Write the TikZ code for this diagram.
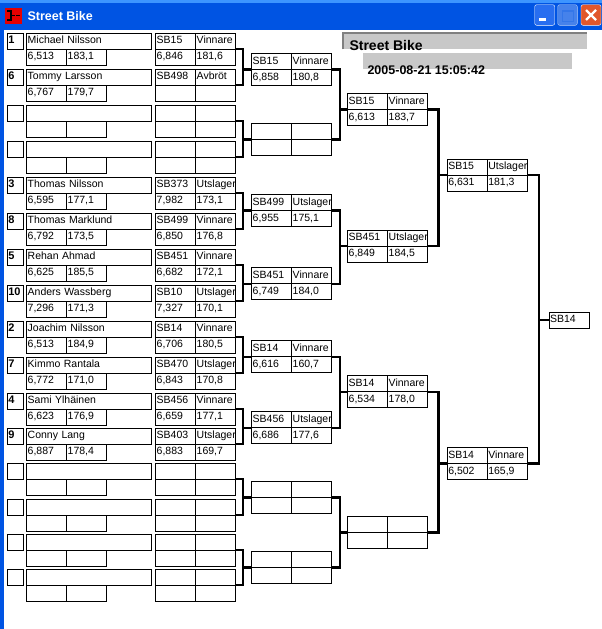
\documentclass[tikz,border=0pt]{standalone}
\usepackage{fontspec}
\setmainfont{Liberation Sans}
\usepackage{tikz}
\usetikzlibrary{positioning}
\usetikzlibrary{calc}

\definecolor{xpblue}{RGB}{0,84,227}
\definecolor{xplight}{RGB}{61,149,255}
\definecolor{xpbutton}{RGB}{40,110,240}
\definecolor{xpfaded}{RGB}{70,130,235}
\definecolor{closered}{RGB}{225,87,44}
\definecolor{panel}{RGB}{200,200,200}

% rider: index, top, seed, name, time, speed
\newcommand{\rider}[6]{%
	\node [seedbox] (s#1) at (7.3,#2) {#3};
	\node [namebox] (n#1) at (26.7,#2) {#4};
	\node [cell] (t#1a) at (n#1.south west) {#5};
	\node [cell] (t#1b) at (t#1a.north east) {#6};
}
% heat box: name, left, top, four texts
\newcommand{\heat}[7]{%
	\node [cell] (#1-a) at (#2,#3) {#4};
	\node [cell] (#1-b) at (#1-a.north east) {#5};
	\node [cell] (#1-c) at (#1-a.south west) {#6};
	\node [cell] (#1-d) at (#1-c.north east) {#7};
}
% bracket: upper heat, lower heat, next heat, reach
\newcommand{\joinheats}[4]{%
	\draw [link] (#1-b.south east) -- ++(#4,0) coordinate (#3-j) |- (#2-b.south east);
	\draw [link] (#3-a.south west) -- (#3-a.south west -| #3-j);
}

\begin{document}
\begin{tikzpicture}[x=1pt, y=-1pt,
		cell/.style={draw, line width=1pt, anchor=north west, outer sep=0pt,
			inner xsep=1pt, inner ysep=0pt, minimum height=16pt,
			text width=38pt, align=left, text height=7.6pt, text depth=2pt,
			font=\fontsize{10.5}{12}\selectfont},
		namebox/.style={cell, text width=123pt},
		seedbox/.style={cell, text width=14pt,
			font=\fontsize{11}{12}\selectfont\bfseries},
		panelbox/.style={fill=panel, anchor=north west, inner sep=0pt,
			minimum height=16pt},
		link/.style={line width=2.4pt}]
	\useasboundingbox (0,0) rectangle (602,629);
	\fill [white] (0,0) rectangle (602,629);

	% window frame
	\fill [xpblue] (0,0) rectangle (602,30);
	\fill [xplight] (0,0) rectangle (602,2.5);
	\fill [xpblue] (0,30) rectangle (3.5,629);
	\fill [red!90!black] (5,8) rectangle (21.5,23.5);
	\draw [line width=1.2pt] (7,11) -- (11,11) -- (11,20) -- (7,20)
		(11,15.5) -- (14.5,15.5) (16,15.5) -- (20,15.5);
	\node [anchor=base west, text=white,
		font=\fontsize{12.5}{14}\selectfont\bfseries] (caption) at (24,20.7) {Street Bike};
	\draw [white, fill=xpbutton, rounded corners=2pt] (534.7,4.7) rectangle (554.7,25.3);
	\fill [white] (539.3,18.3) rectangle (546,21);
	\draw [white!70!xpblue, fill=xpfaded, rounded corners=2pt] (557.7,4.7) rectangle (577.3,25.3);
	\draw [xpblue!80!white, line width=1pt] (562,10) rectangle (573,21);
	\draw [xpblue!80!white, line width=2pt] (562,10.5) -- (573,10.5);
	\draw [white, fill=closered, rounded corners=2pt] (581,4.7) rectangle (601,25.3);
	\draw [white, line width=2.2pt] (586,10) -- (596,20) (596,10) -- (586,20);

	% heading
	\node [panelbox, minimum width=244pt] (header) at (343,33) {};
	\draw [gray, line width=1.5pt] (header.south west) -- (header.north west) -- (header.north east);
	\node [anchor=base west, font=\fontsize{14}{16}\selectfont\bfseries]
		(title) at ($(header.south west)+(3,1)$) {Street Bike};
	\node [panelbox, minimum width=209pt] (dateband) at (363,53) {};
	\node [anchor=base west, font=\fontsize{12.5}{14}\selectfont\bfseries]
		(stamp) at ($(dateband.south west)+(1,5)$) {2005-08-21 15:05:42};

	% riders
	\rider{0}{33}{1}{Michael Nilsson}{6,513}{183,1}
	\rider{1}{69}{6}{Tommy Larsson}{6,767}{179,7}
	\rider{2}{105}{}{}{}{}
	\rider{3}{141}{}{}{}{}
	\rider{4}{177}{3}{Thomas Nilsson}{6,595}{177,1}
	\rider{5}{213}{8}{Thomas Marklund}{6,792}{173,5}
	\rider{6}{249}{5}{Rehan Ahmad}{6,625}{185,5}
	\rider{7}{285}{10}{Anders Wassberg}{7,296}{171,3}
	\rider{8}{321}{2}{Joachim Nilsson}{6,513}{184,9}
	\rider{9}{357}{7}{Kimmo Rantala}{6,772}{171,0}
	\rider{10}{393}{4}{Sami Ylhäinen}{6,623}{176,9}
	\rider{11}{428}{9}{Conny Lang}{6,887}{178,4}
	\rider{12}{463}{}{}{}{}
	\rider{13}{499}{}{}{}{}
	\rider{14}{534}{}{}{}{}
	\rider{15}{569}{}{}{}{}

	% first round
	\heat{r1-0}{155.7}{33}{SB15}{Vinnare}{6,846}{181,6}
	\heat{r1-1}{155.7}{69}{SB498}{Avbröt}{}{}
	\heat{r1-2}{155.7}{105}{}{}{}{}
	\heat{r1-3}{155.7}{141}{}{}{}{}
	\heat{r1-4}{155.7}{177}{SB373}{Utslager}{7,982}{173,1}
	\heat{r1-5}{155.7}{213}{SB499}{Vinnare}{6,850}{176,8}
	\heat{r1-6}{155.7}{249}{SB451}{Vinnare}{6,682}{172,1}
	\heat{r1-7}{155.7}{285}{SB10}{Utslager}{7,327}{170,1}
	\heat{r1-8}{155.7}{321}{SB14}{Vinnare}{6,706}{180,5}
	\heat{r1-9}{155.7}{357}{SB470}{Utslager}{6,843}{170,8}
	\heat{r1-10}{155.7}{393}{SB456}{Vinnare}{6,659}{177,1}
	\heat{r1-11}{155.7}{428}{SB403}{Utslager}{6,883}{169,7}
	\heat{r1-12}{155.7}{463}{}{}{}{}
	\heat{r1-13}{155.7}{499}{}{}{}{}
	\heat{r1-14}{155.7}{534}{}{}{}{}
	\heat{r1-15}{155.7}{569}{}{}{}{}

	% second round
	\heat{r2-0}{251.7}{53.3}{SB15}{Vinnare}{6,858}{180,8}
	\heat{r2-1}{251.7}{123.3}{}{}{}{}
	\heat{r2-2}{251.7}{194.3}{SB499}{Utslager}{6,955}{175,1}
	\heat{r2-3}{251.7}{267.7}{SB451}{Vinnare}{6,749}{184,0}
	\heat{r2-4}{251.7}{340.7}{SB14}{Vinnare}{6,616}{160,7}
	\heat{r2-5}{251.7}{411.7}{SB456}{Utslager}{6,686}{177,6}
	\heat{r2-6}{251.7}{481.3}{}{}{}{}
	\heat{r2-7}{251.7}{551.3}{}{}{}{}

	% quarter and semi finals
	\heat{r3-0}{347.7}{93.3}{SB15}{Vinnare}{6,613}{183,7}
	\heat{r3-1}{347.7}{230}{SB451}{Utslager}{6,849}{184,5}
	\heat{r3-2}{347.7}{375.7}{SB14}{Vinnare}{6,534}{178,0}
	\heat{r3-3}{347.7}{516.3}{}{}{}{}
	\heat{r4-0}{447.3}{159}{SB15}{Utslager}{6,631}{181,3}
	\heat{r4-1}{447.3}{447.3}{SB14}{Vinnare}{6,502}{165,9}
	\node [cell] (win) at (549,312) {SB14};

	% brackets
	\joinheats{r1-0}{r1-1}{r2-0}{7}
	\joinheats{r1-2}{r1-3}{r2-1}{7}
	\joinheats{r1-4}{r1-5}{r2-2}{7}
	\joinheats{r1-6}{r1-7}{r2-3}{7}
	\joinheats{r1-8}{r1-9}{r2-4}{7}
	\joinheats{r1-10}{r1-11}{r2-5}{7}
	\joinheats{r1-12}{r1-13}{r2-6}{7}
	\joinheats{r1-14}{r1-15}{r2-7}{7}
	\joinheats{r2-0}{r2-1}{r3-0}{8}
	\joinheats{r2-2}{r2-3}{r3-1}{8}
	\joinheats{r2-4}{r2-5}{r3-2}{8}
	\joinheats{r2-6}{r2-7}{r3-3}{8}
	\joinheats{r3-0}{r3-1}{r4-0}{10.6}
	\joinheats{r3-2}{r3-3}{r4-1}{10.6}
	\draw [link] (r4-0-b.south east) -- ++(11.4,0) coordinate (win-j) |- (r4-1-b.south east);
	\draw [link] (win.west) -- (win.west -| win-j);
\end{tikzpicture}
\end{document}
